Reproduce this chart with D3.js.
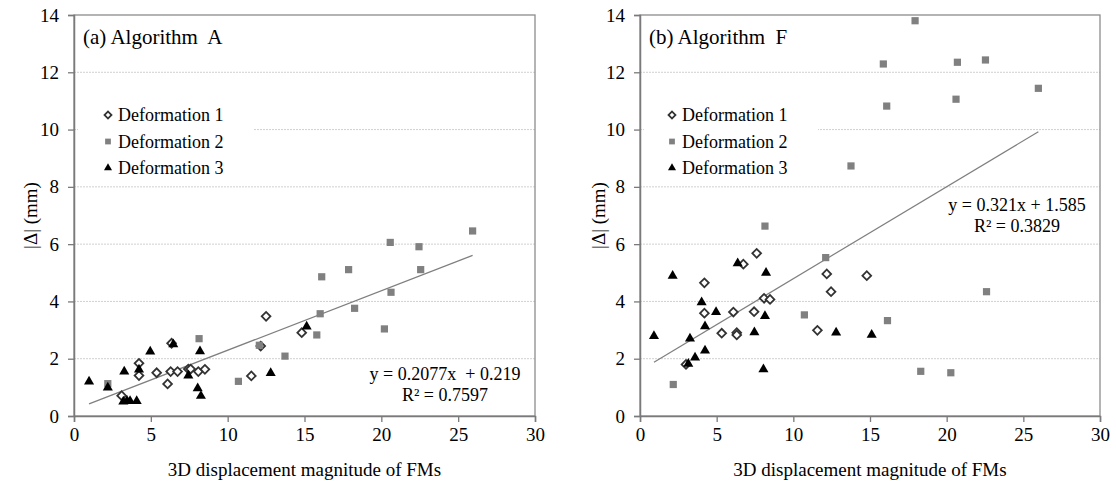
<!DOCTYPE html>
<html>
<head>
<meta charset="utf-8">
<script src="https://cdn.jsdelivr.net/npm/d3@7"></script>
<style>
body { margin: 0; background: #fff; }
text { font-family: "Liberation Serif", "Times New Roman", serif; fill: #000; }
</style>
</head>
<body>
<div id="chart"></div>
<script>
// axis ticks
var xTicks = [0, 5, 10, 15, 20, 25, 30];
var yTicks = [0, 2, 4, 6, 8, 10, 12, 14];
var defNames = ["Deformation 1", "Deformation 2", "Deformation 3"];

// (a) Algorithm A  -  [displacement, |delta|]
var def1A = [[3.1,0.71],[4.23,1.84],[4.23,1.41],[5.38,1.51],[6.09,1.12],[6.29,1.55],[6.35,2.54],[6.74,1.55],
             [7.44,1.64],[7.59,1.64],[8.09,1.55],[8.52,1.63],[11.54,1.4],[12.15,2.44],[12.5,3.48],[14.82,2.91]];
var def2A = [[2.2,1.13],[8.14,2.7],[10.7,1.21],[12.06,2.47],[13.73,2.09],[15.8,2.83],[16.02,3.57],[16.12,4.86],
             [17.87,5.11],[18.26,3.76],[20.2,3.04],[20.58,6.06],[20.63,4.32],[22.45,5.91],[22.56,5.11],[25.94,6.46]];
var def3A = [[0.98,1.2],[2.2,0.99],[3.27,1.55],[3.21,0.5],[3.45,0.53],[3.65,0.52],[4.08,0.52],[4.23,1.62],
             [4.96,2.25],[6.46,2.5],[7.44,1.41],[8.05,0.97],[8.2,2.26],[8.26,0.7],[12.8,1.5],[15.14,3.12]];

// (b) Algorithm F
var def1F = [[3.0,1.8],[4.2,3.59],[4.2,4.65],[5.33,2.89],[6.09,3.63],[6.31,2.91],[6.31,2.83],[6.74,5.3],
             [7.44,3.64],[7.61,5.68],[8.09,4.11],[8.48,4.07],[11.57,2.99],[12.18,4.96],[12.46,4.34],[14.79,4.9]];
var def2F = [[2.17,1.1],[8.15,6.63],[10.72,3.53],[12.11,5.53],[13.76,8.73],[15.87,12.29],[16.09,10.82],[16.14,3.33],
             [17.94,13.8],[18.31,1.56],[20.27,1.51],[20.61,11.06],[20.7,12.35],[22.53,12.43],[22.6,4.34],[25.98,11.44]];
var def3F = [[0.91,2.79],[2.13,4.89],[3.26,2.7],[3.15,1.82],[3.59,2.04],[4.02,3.97],[4.24,3.13],[4.24,2.28],
             [4.96,3.63],[6.37,5.33],[7.46,2.92],[8.05,1.63],[8.15,3.49],[8.22,5.0],[12.79,2.91],[15.11,2.83]];

// trend lines (from the printed equations)
var fitA = { slope: 0.2077, intercept: 0.219, eq: "y = 0.2077x\u00a0 + 0.219", r2: "R\u00b2 = 0.7597" };
var fitF = { slope: 0.321, intercept: 1.585, eq: "y = 0.321x + 1.585", r2: "R\u00b2 = 0.3829" };

var svg = d3.select("#chart").append("svg")
    .attr("width", 1116)
    .attr("height", 481);

var panels = [
    { title: "(a) Algorithm\u00a0 A", sets: [def1A, def2A, def3A], fit: fitA,
      left: 74, right: 535, ylabX: 30, legX: 108, legBox: [78, 96, 176, 84], eqX: 445, eqY: 380 },
    { title: "(b) Algorithm\u00a0 F", sets: [def1F, def2F, def3F], fit: fitF,
      left: 640, right: 1100, ylabX: 598, legX: 672, legBox: [644, 96, 174, 84], eqX: 1017, eqY: 211 }
];
var plotTop = 15, plotBottom = 416;

panels.forEach(drawPanel);

// k: 0 diamond, 1 square, 2 triangle ; s = scale (1 for plot, smaller for legend)
function marker(sel, k, s) {
    if (k == 0) {
        sel.append("path")
            .attr("d", d3.symbol().type(d3.symbolSquare).size(38 * s * s))
            .attr("transform", "rotate(45)")
            .attr("fill", "#fff")
            .attr("stroke", "#333")
            .attr("stroke-width", 1.8);
    } else if (k == 1) {
        sel.append("path")
            .attr("d", d3.symbol().type(d3.symbolSquare).size(52 * s * s))
            .attr("fill", "#808080");
    } else {
        sel.append("path")
            .attr("d", d3.symbol().type(d3.symbolTriangle).size(44 * s * s))
            .attr("fill", "#000");
    }
}

function drawPanel(p) {
    var x = d3.scaleLinear().domain([0, 30]).range([p.left, p.right]);
    var y = d3.scaleLinear().domain([0, 14]).range([plotBottom, plotTop]);

    var g = svg.append("g");

    // gridlines
    g.selectAll(".grid")
        .data(yTicks.slice(1, -1))
        .enter().append("line")
        .attr("x1", p.left).attr("x2", p.right)
        .attr("y1", function(d) { return y(d); })
        .attr("y2", function(d) { return y(d); })
        .attr("stroke", "#d0d0d0")
        .attr("stroke-width", 1)
        .attr("stroke-dasharray", "2,1");

    // plot frame
    g.append("rect")
        .attr("x", p.left).attr("y", plotTop)
        .attr("width", p.right - p.left).attr("height", plotBottom - plotTop)
        .attr("fill", "none")
        .attr("stroke", "#8c8c8c")
        .attr("stroke-width", 1.3);

    // legend background hides gridlines
    g.append("rect")
        .attr("x", p.legBox[0]).attr("y", p.legBox[1])
        .attr("width", p.legBox[2]).attr("height", p.legBox[3])
        .attr("fill", "#fff");

    // axes
    var xAxis = g.append("g")
        .attr("transform", "translate(0," + plotBottom + ")")
        .call(d3.axisBottom(x).tickValues(xTicks).tickSize(6).tickPadding(6));
    var yAxis = g.append("g")
        .attr("transform", "translate(" + p.left + ",0)")
        .call(d3.axisLeft(y).tickValues(yTicks).tickSize(6).tickPadding(9));
    [xAxis, yAxis].forEach(function(a) {
        a.select(".domain").attr("stroke", "#7a7a7a").attr("stroke-width", 1.5);
        a.selectAll(".tick line").attr("stroke", "#7a7a7a").attr("stroke-width", 1.3);
        a.selectAll(".tick text")
            .style("font-family", "Liberation Serif, serif")
            .style("font-size", "19px")
            .attr("fill", "#000");
    });

    // trend line
    var xs = [].concat(p.sets[0], p.sets[1], p.sets[2]).map(function(d) { return d[0]; });
    var x0 = d3.min(xs), x1 = d3.max(xs);
    g.append("line")
        .attr("x1", x(x0)).attr("y1", y(p.fit.slope * x0 + p.fit.intercept))
        .attr("x2", x(x1)).attr("y2", y(p.fit.slope * x1 + p.fit.intercept))
        .attr("stroke", "#7f7f7f")
        .attr("stroke-width", 1.2);

    // points
    p.sets.forEach(function(set, k) {
        g.selectAll(".pt" + k)
            .data(set)
            .enter().append("g")
            .attr("class", "pt" + k)
            .attr("transform", function(d) { return "translate(" + x(d[0]) + "," + y(d[1]) + ")"; })
            .each(function() { marker(d3.select(this), k, 1); });
    });

    // legend
    var leg = g.selectAll(".legend")
        .data(defNames)
        .enter().append("g")
        .attr("class", "legend")
        .attr("transform", function(d, i) { return "translate(" + p.legX + "," + (115 + 26.5 * i) + ")"; });
    leg.each(function(d, i) { marker(d3.select(this), i, 0.8); });
    leg.append("text")
        .attr("x", 10)
        .attr("y", 6)
        .style("font-size", "18px")
        .text(function(d) { return d; });

    // title
    g.append("text")
        .attr("x", p.left + 9)
        .attr("y", 44)
        .style("font-size", "21px")
        .text(p.title);

    // equation
    g.append("text")
        .attr("x", p.eqX).attr("y", p.eqY)
        .attr("text-anchor", "middle")
        .style("font-size", "18px")
        .text(p.fit.eq);
    g.append("text")
        .attr("x", p.eqX).attr("y", p.eqY + 21)
        .attr("text-anchor", "middle")
        .style("font-size", "18px")
        .text(p.fit.r2);

    // axis labels
    g.append("text")
        .attr("x", (p.left + p.right) / 2)
        .attr("y", 476)
        .attr("text-anchor", "middle")
        .style("font-size", "19px")
        .text("3D displacement magnitude of FMs");
    g.append("text")
        .attr("transform", "translate(" + p.ylabX + "," + ((plotTop + plotBottom) / 2) + ") rotate(-90)")
        .attr("text-anchor", "middle")
        .attr("dy", "0.35em")
        .style("font-size", "19px")
        .text("|\u0394| (mm)");
}
</script>
</body>
</html>
